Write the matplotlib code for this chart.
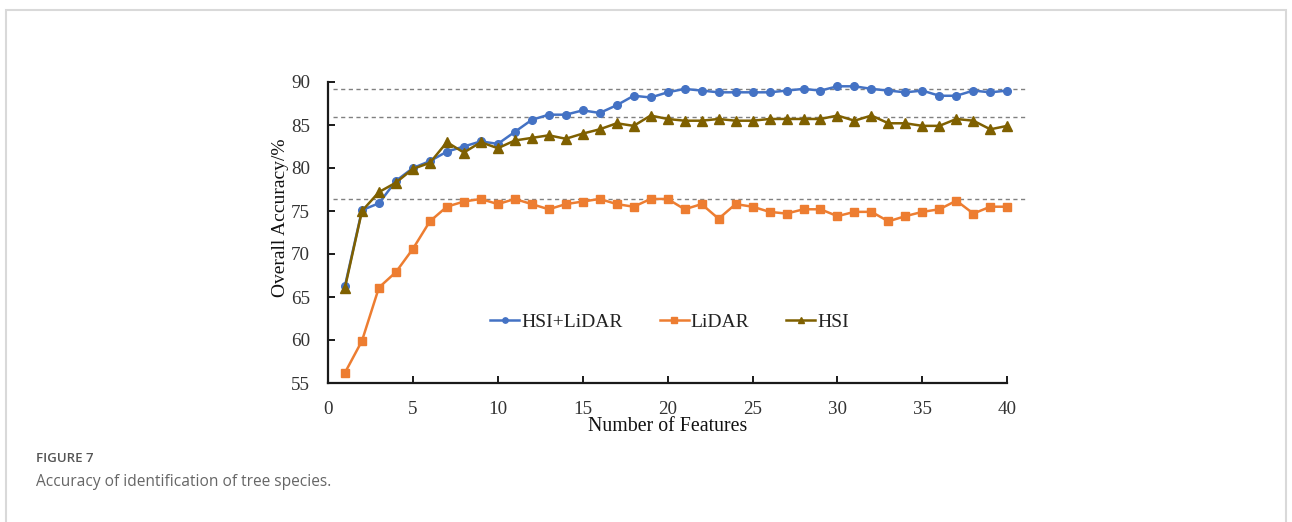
import matplotlib
matplotlib.use("Agg")
import matplotlib.pyplot as plt
from matplotlib.patches import Rectangle

features = list(range(1, 41))
hsi_lidar = [66.3, 75.1, 75.9, 78.5, 80.0, 80.8, 81.9, 82.5, 83.1, 82.8,
             84.2, 85.6, 86.2, 86.2, 86.7, 86.4, 87.3, 88.4, 88.2, 88.8,
             89.2, 89.0, 88.8, 88.8, 88.8, 88.8, 89.0, 89.2, 89.0, 89.5,
             89.5, 89.2, 89.0, 88.8, 89.0, 88.4, 88.4, 89.0, 88.8, 89.0]
lidar = [56.2, 59.9, 66.1, 67.9, 70.6, 73.8, 75.5, 76.1, 76.4, 75.8,
         76.4, 75.8, 75.2, 75.8, 76.1, 76.4, 75.8, 75.5, 76.4, 76.4,
         75.2, 75.8, 74.1, 75.8, 75.5, 74.9, 74.7, 75.2, 75.2, 74.4,
         74.9, 74.9, 73.8, 74.4, 74.9, 75.2, 76.2, 74.7, 75.5, 75.5]
hsi = [66.1, 75.0, 77.2, 78.3, 79.9, 80.6, 83.0, 81.8, 83.0, 82.3,
       83.2, 83.5, 83.8, 83.4, 84.0, 84.5, 85.2, 84.9, 86.1, 85.7,
       85.5, 85.5, 85.7, 85.5, 85.5, 85.7, 85.7, 85.7, 85.7, 86.1,
       85.5, 86.1, 85.2, 85.2, 84.9, 84.9, 85.7, 85.5, 84.5, 84.9]
ref_levels = [89.2, 85.9, 76.4]
series_names = ["HSI+LiDAR", "LiDAR", "HSI"]
x_ticks = [0, 5, 10, 15, 20, 25, 30, 35, 40]
y_ticks = [55, 60, 65, 70, 75, 80, 85, 90]

serif = ["Liberation Serif", "DejaVu Serif"]

fig = plt.figure(figsize=(12.92, 5.22), dpi=100)
fig.patches.append(Rectangle((6/1292, -0.1), 1280/1292, 1.1 - 10/522,
                             transform=fig.transFigure, fill=False,
                             edgecolor="#d9d9d9", linewidth=1.5))

ax = fig.add_axes([328/1292, 1 - 383/522, (1007.3 - 328)/1292, (383 - 82)/522])

for lv in ref_levels:
    ax.plot([0.3, 41.1], [lv, lv], linestyle=(0, (3, 2.5)), color="#808080",
            linewidth=1.0, clip_on=False, zorder=1)

ax.plot(features, hsi_lidar, color="#4472C4", marker="o", markersize=5.5,
        linewidth=1.8, label=series_names[0], zorder=3, clip_on=False)
ax.plot(features, lidar, color="#ED7D31", marker="s", markersize=5.5,
        linewidth=1.8, label=series_names[1], zorder=3, clip_on=False)
ax.plot(features, hsi, color="#7F6000", marker="^", markersize=6.5,
        linewidth=1.8, label=series_names[2], zorder=4, clip_on=False)

ax.set_xlim(0, 40)
ax.set_ylim(55, 90)
ax.set_xticks(x_ticks)
ax.set_yticks(y_ticks)
for s in ["top", "right"]:
    ax.spines[s].set_visible(False)
for s in ["left", "bottom"]:
    ax.spines[s].set_linewidth(1.6)
    ax.spines[s].set_color("#1a1a1a")
ax.tick_params(direction="in", length=5, width=1.4, color="#1a1a1a",
               labelsize=13.7)
ax.tick_params(axis="x", pad=13)
ax.tick_params(axis="y", pad=13)
for lab in ax.get_xticklabels() + ax.get_yticklabels():
    lab.set_family(serif)
    lab.set_color("#333333")

ax.set_xlabel("Number of Features", fontsize=14.3, family=serif, labelpad=-1,
              color="#111111")
ax.set_ylabel("Overall Accuracy/%", fontsize=14, family=serif, labelpad=0,
              color="#111111")
ax.yaxis.set_label_coords(-0.057, 0.55)

leg = ax.legend(loc="center", bbox_to_anchor=(0.503, 0.203), ncol=3,
                frameon=False, prop={"family": serif, "size": 14},
                handlelength=1.5, handletextpad=0.1, columnspacing=1.9,
                markerscale=0.7)
for t in leg.get_texts():
    t.set_color("#222222")

fig.text(36/1292, 1 - 458/522, "FIGURE 7", fontsize=9.5, family="Open Sans",
         color="#555555", va="center", ha="left", fontweight="semibold")
fig.text(36/1292, 1 - 482/522, "Accuracy of identification of tree species.",
         fontsize=11.2, family="Open Sans", color="#666666", va="center", ha="left")

fig.savefig("out.png", dpi=100)
